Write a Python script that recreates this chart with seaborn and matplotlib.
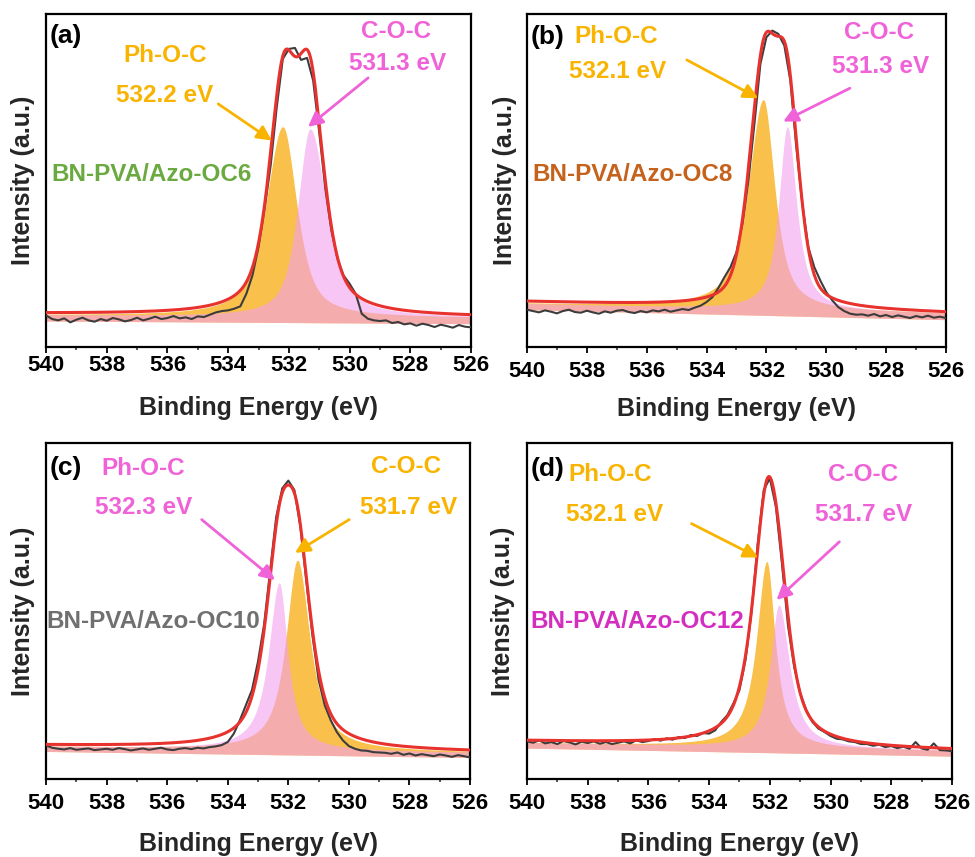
import numpy as np
import pandas as pd
import seaborn as sns
import matplotlib.pyplot as plt
from matplotlib.ticker import MultipleLocator

# ---------------------------------------------------------------------------
# O 1s spectra (intensity in arbitrary units, 0-1 span of each panel)
# binding-energy grid of the measured spectra: 540 -> 526 eV in 0.2 eV steps
# ---------------------------------------------------------------------------
binding_energy = np.round(np.linspace(540.0, 526.0, 71), 1)

raw_oc6 = [
    .095, .084, .080, .086, .074, .082, .088, .080, .076, .084,
    .079, .087, .083, .077, .081, .088, .080, .085, .091, .084,
    .087, .093, .086, .089, .084, .092, .090, .097, .104, .108,
    .110, .115, .122, .160, .215, .300, .415, .545, .720, .865,
    .895, .898, .862, .868, .800, .645, .475, .350, .265, .215,
    .190, .160, .100, .085, .080, .078,
    .080, .072, .075, .068, .071, .064, .070, .066, .060, .067,
    .063, .058, .066, .061, .059,
]
raw_oc8 = [
    .112, .108, .104, .110, .106, .101, .108, .112, .105, .103,
    .109, .104, .100, .107, .103, .109, .111, .105, .102, .108,
    .104, .110, .107, .112, .106, .110, .114, .111, .118, .124,
    .135, .150, .178, .210, .240, .285, .370, .500, .670, .850,
    .930, .950, .940, .905, .800, .600, .430, .300, .240, .200,
    .165, .140, .120, .108, .100, .097,
    .098, .094, .099, .092, .096, .090, .095, .091, .087, .093,
    .089, .094, .088, .091, .087,
]
raw_oc10 = [
    .100, .093, .090, .088, .092, .087, .089, .091, .086, .088,
    .090, .087, .092, .089, .085, .088, .091, .087, .090, .093,
    .088, .086, .090, .092, .089, .093, .091, .095, .097, .101,
    .110, .135, .175, .220, .265, .350, .460, .620, .780, .865,
    .888, .860, .750, .585, .425, .295, .220, .175, .140, .115,
    .098, .090, .085, .084, .080, .079,
    .078, .075, .079, .072, .076, .070, .074, .071, .068, .073,
    .070, .066, .071, .068, .064,
]
raw_oc12 = [
    .112, .108, .115, .106, .110, .104, .113, .109, .103, .111,
    .107, .112, .105, .110, .104, .108, .112, .106, .115, .110,
    .113, .119, .114, .121, .117, .125, .122, .131, .128, .137,
    .135, .145, .170, .190, .225, .265, .355, .500, .700, .860,
    .895, .810, .640, .455, .335, .255, .205, .170, .150, .140,
    .128, .120, .118, .112, .110, .104,
    .104, .099, .102, .095, .098, .092, .096, .090, .110, .091,
    .087, .106, .086, .085, .083,
]
raw_spectra = [raw_oc6, raw_oc8, raw_oc10, raw_oc12]

panel_tags = ["(a)", "(b)", "(c)", "(d)"]
sample_names = ["BN-PVA/Azo-OC6", "BN-PVA/Azo-OC8",
                "BN-PVA/Azo-OC10", "BN-PVA/Azo-OC12"]
sample_colors = ["#6BAA40", "#C5621C", "#707070", "#D42EC0"]

# fitted components: Ph-O-C and C-O-C (split pseudo-Voigt peaks,
# separate half widths on the high- and low-binding-energy side)
ph_center = [532.2, 532.1, 532.3, 532.1]
ph_height = [0.570, 0.630, 0.497, 0.553]
ph_hwhm_hi = [0.66, 0.60, 0.42, 0.40]
ph_hwhm_lo = [0.55, 0.45, 0.34, 0.33]
ph_eta = [0.7, 0.8, 0.95, 0.95]
coc_center = [531.3, 531.3, 531.7, 531.7]
coc_height = [0.564, 0.550, 0.565, 0.424]
coc_hwhm_hi = [0.48, 0.34, 0.45, 0.35]
coc_hwhm_lo = [0.64, 0.37, 0.50, 0.42]
coc_eta = [0.7, 0.9, 0.9, 0.95]
ph_is_orange = [True, True, False, True]

# linear background of the components at 540 / 526 eV, and the fill floor
comp_bg_540 = [0.096, 0.130, 0.097, 0.108]
comp_bg_526 = [0.088, 0.100, 0.079, 0.084]
fill_depth = [0.018, 0.018, 0.015, 0.016]

# cumulative fit envelope
env_ph_height = [0.636, 0.700, 0.500, 0.680]
env_ph_hwhm = [0.55, 0.55, 0.55, 0.55]
env_coc_height = [0.636, 0.580, 0.500, 0.200]
env_coc_hwhm = [0.55, 0.47, 0.55, 0.45]
env_eta = [0.6, 0.4, 0.65, 0.7]
env_bg_540 = [0.100, 0.136, 0.100, 0.113]
env_bg_526 = [0.090, 0.102, 0.081, 0.086]

# ---------------------------------------------------------------------------
# layout
# ---------------------------------------------------------------------------
axes_rects = [(0.0472, 0.5951, 0.4359, 0.3886), (0.5405, 0.5951, 0.4297, 0.3886),
              (0.0472, 0.0910, 0.4349, 0.3921), (0.5405, 0.0910, 0.4359, 0.3921)]
tag_pos = [(0.008, 0.935), (0.008, 0.930), (0.008, 0.927), (0.008, 0.923)]
ph_label_pos = [(0.280, 0.874), (0.212, 0.932), (0.228, 0.925), (0.195, 0.905)]
ph_value_pos = [(0.280, 0.754), (0.216, 0.827), (0.231, 0.809), (0.205, 0.786)]
coc_label_pos = [(0.823, 0.946), (0.840, 0.943), (0.849, 0.929), (0.791, 0.905)]
coc_value_pos = [(0.826, 0.850), (0.845, 0.842), (0.856, 0.809), (0.793, 0.786)]
name_pos = [(0.012, 0.517), (0.012, 0.517), (0.000, 0.468), (0.009, 0.468)]
ph_arrow = [((534.33, .730), (532.56, .620)), ((534.66, .862), (532.27, .747)),
            ((534.86, .772), (532.44, .592)), ((534.58, .760), (532.38, .659))]
coc_arrow = [((529.39, .808), (531.37, .661)), ((529.21, .777), (531.44, .677)),
             ((529.99, .772), (531.78, .673)), ((529.71, .706), (531.78, .533))]
tick_pad = [2.0, 6.0, 6.0, 6.0]
xlabel_y = [-0.183, -0.186, -0.192, -0.192]
ylabel_x = [-0.053, -0.0525, -0.054, -0.056]

ORANGE_FILL, PINK_FILL = "#F7A600", "#F2A0EE"
ORANGE_TXT, PINK_TXT = "#F8B400", "#F062D8"
RED, RAW = "#E8322E", "#3C3C3C"

sns.set_theme(style="ticks")
plt.rcParams["font.family"] = ["Liberation Sans", "DejaVu Sans"]
plt.rcParams["font.weight"] = "bold"
plt.rcParams["axes.labelweight"] = "bold"


def pseudo_voigt(e, center, height, hwhm, eta):
    x = (e - center) / hwhm
    return height * (eta / (1 + x ** 2) + (1 - eta) * np.exp(-np.log(2) * x ** 2))


def split_pseudo_voigt(e, center, height, hwhm_hi, hwhm_lo, eta):
    hwhm = np.where(e >= center, hwhm_hi, hwhm_lo)
    return pseudo_voigt(e, center, height, hwhm, eta)


def linear_bg(e, at_540, at_526):
    return at_526 + (at_540 - at_526) * (e - 526.0) / 14.0


fig = plt.figure(figsize=(9.75, 8.57), dpi=100)
model_e = np.linspace(526.0, 540.0, 1401)

for i in range(4):
    ax = fig.add_axes(axes_rects[i])

    ph = split_pseudo_voigt(model_e, ph_center[i], ph_height[i],
                            ph_hwhm_hi[i], ph_hwhm_lo[i], ph_eta[i])
    coc = split_pseudo_voigt(model_e, coc_center[i], coc_height[i],
                             coc_hwhm_hi[i], coc_hwhm_lo[i], coc_eta[i])
    ph_color = ORANGE_FILL if ph_is_orange[i] else PINK_FILL
    coc_color = PINK_FILL if ph_is_orange[i] else ORANGE_FILL
    ph_txt = ORANGE_TXT if ph_is_orange[i] else PINK_TXT
    coc_txt = PINK_TXT if ph_is_orange[i] else ORANGE_TXT

    comp_bg = linear_bg(model_e, comp_bg_540[i], comp_bg_526[i])
    floor = comp_bg - fill_depth[i]
    comps = [(ph, ph_color), (coc, coc_color)]
    comps.sort(key=lambda c: 0 if c[1] == ORANGE_FILL else 1)
    for curve, col in comps:
        ax.fill_between(model_e, floor, comp_bg + curve,
                        color=col, alpha=0.70 if col == ORANGE_FILL else 0.60,
                        lw=0, zorder=1)

    raw_df = pd.DataFrame({"BE": binding_energy, "I": raw_spectra[i]})
    sns.lineplot(data=raw_df, x="BE", y="I", ax=ax, color=RAW, lw=1.5,
                 estimator=None, sort=False, zorder=3)

    envelope = (linear_bg(model_e, env_bg_540[i], env_bg_526[i])
                + pseudo_voigt(model_e, ph_center[i], env_ph_height[i], env_ph_hwhm[i], env_eta[i])
                + pseudo_voigt(model_e, coc_center[i], env_coc_height[i], env_coc_hwhm[i], env_eta[i]))
    env_df = pd.DataFrame({"BE": model_e, "I": envelope})
    sns.lineplot(data=env_df, x="BE", y="I", ax=ax, color=RED, lw=2.2,
                 estimator=None, sort=False, zorder=4)

    ax.set_xlim(540, 526)
    ax.set_ylim(0, 1)
    ax.xaxis.set_major_locator(MultipleLocator(2))
    ax.xaxis.set_minor_locator(MultipleLocator(1))
    ax.tick_params(axis="x", which="major", direction="out", length=4, width=1.3,
                   labelsize=16, pad=tick_pad[i], colors="black")
    ax.tick_params(axis="x", which="minor", direction="out", length=2.3, width=1.1)
    ax.set_yticks([])
    for lab in ax.get_xticklabels():
        lab.set_fontweight("bold")
    for sp in ax.spines.values():
        sp.set_linewidth(1.6)
        sp.set_color("black")

    ax.set_xlabel("Binding Energy (eV)", fontsize=18, fontweight="bold")
    ax.xaxis.label.set_verticalalignment("center")
    ax.xaxis.set_label_coords(0.5, xlabel_y[i])
    ax.set_ylabel("Intensity (a.u.)", fontsize=18, fontweight="bold")
    ax.yaxis.label.set_verticalalignment("center")
    ax.yaxis.set_label_coords(ylabel_x[i], 0.5)

    ax.text(*tag_pos[i], panel_tags[i], transform=ax.transAxes, ha="left",
            va="center", fontsize=19, fontweight="bold", color="black")
    ax.text(*ph_label_pos[i], "Ph-O-C", transform=ax.transAxes, ha="center",
            va="center", fontsize=17.5, fontweight="bold", color=ph_txt)
    ax.text(*ph_value_pos[i], f"{ph_center[i]:.1f} eV", transform=ax.transAxes,
            ha="center", va="center", fontsize=17.5, fontweight="bold", color=ph_txt)
    ax.text(*coc_label_pos[i], "C-O-C", transform=ax.transAxes, ha="center",
            va="center", fontsize=17.5, fontweight="bold", color=coc_txt)
    ax.text(*coc_value_pos[i], f"{coc_center[i]:.1f} eV", transform=ax.transAxes,
            ha="center", va="center", fontsize=17.5, fontweight="bold", color=coc_txt)
    ax.text(*name_pos[i], sample_names[i], transform=ax.transAxes, ha="left",
            va="center", fontsize=17.5, fontweight="bold", color=sample_colors[i],
            zorder=6)

    for (start, end), col in [(ph_arrow[i], ph_txt), (coc_arrow[i], coc_txt)]:
        ax.annotate("", xy=end, xytext=start, xycoords="data", textcoords="data",
                    arrowprops=dict(arrowstyle="-|>", color=col, lw=2.0,
                                    mutation_scale=22, shrinkA=0, shrinkB=0),
                    zorder=5)

fig.savefig("out.png", dpi=100)
